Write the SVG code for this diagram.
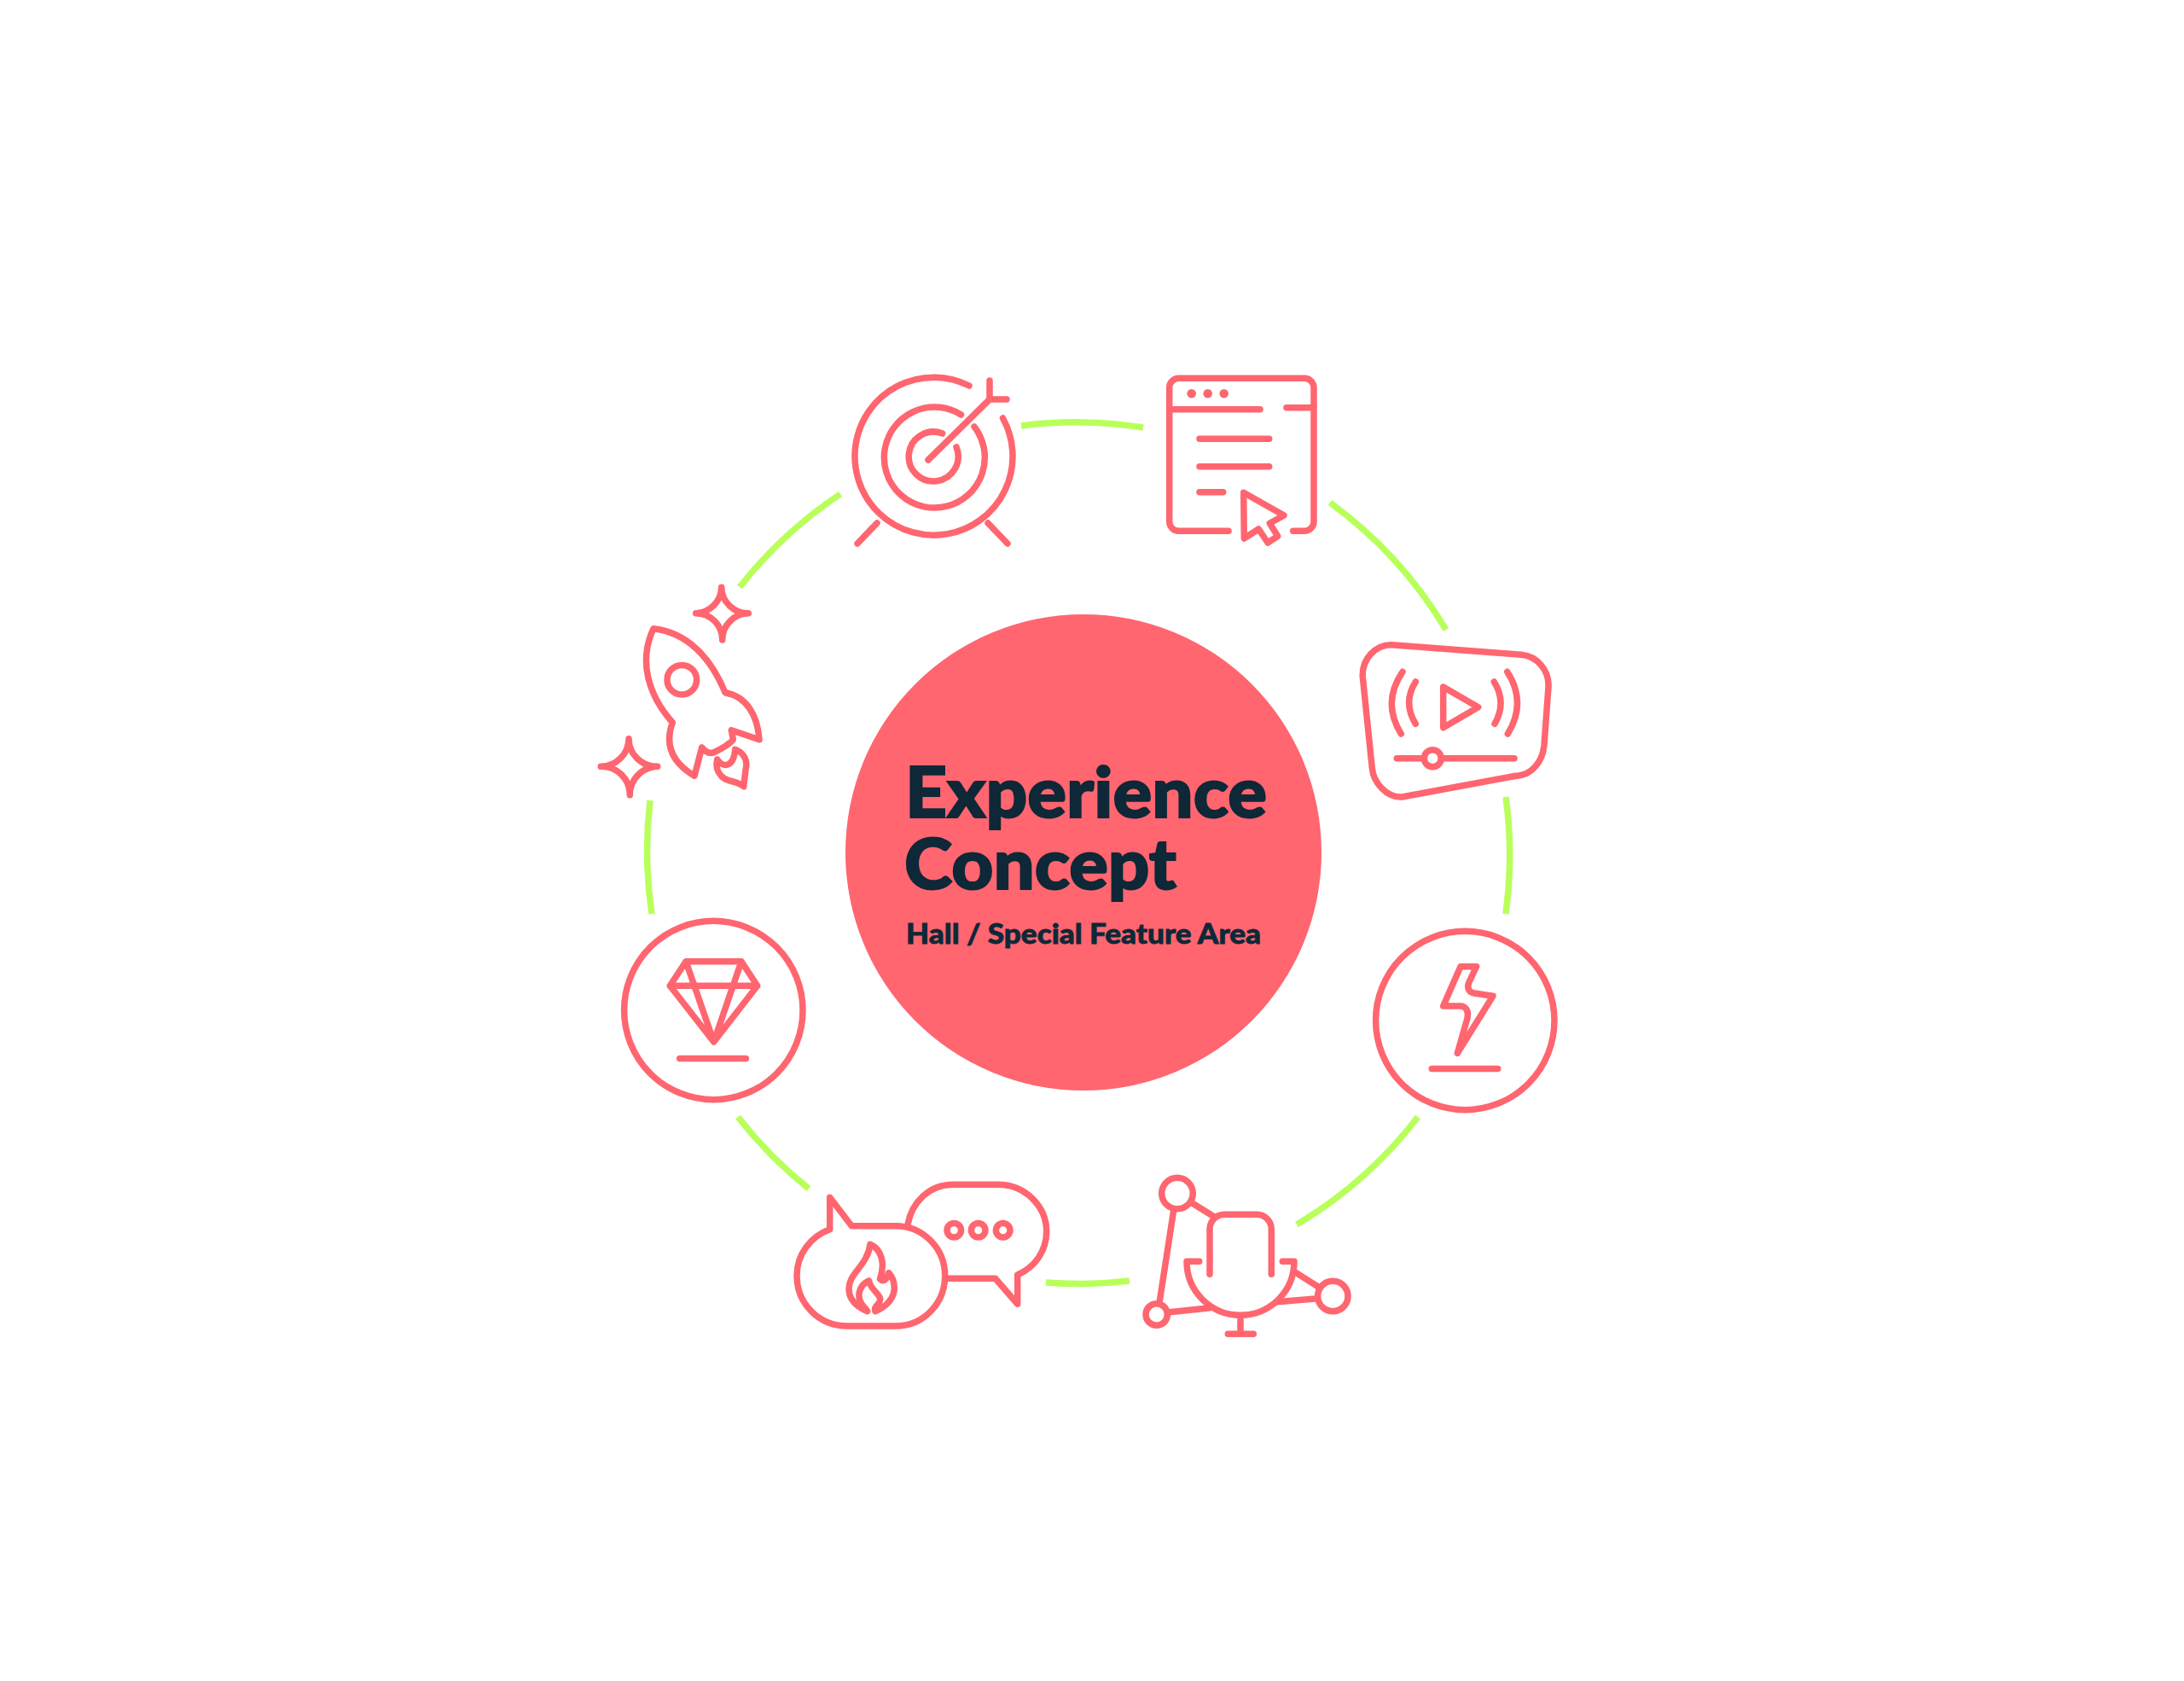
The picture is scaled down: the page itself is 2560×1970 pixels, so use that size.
<svg xmlns="http://www.w3.org/2000/svg" width="2560" height="1970" viewBox="0 0 2560 1970">
<style>
.i{fill:none;stroke:#ff6670;stroke-width:7.5;stroke-linecap:round;stroke-linejoin:round}
.f{fill:#ff6670}
.g{fill:none;stroke:#b9ff5a;stroke-width:7.5;stroke-linecap:butt}
.t{font-family:"Lato","Liberation Sans",sans-serif;font-weight:900;fill:#0e2838;stroke:#0e2838}
</style>
<rect width="2560" height="1970" fill="#ffffff"/>
<g id="connectors" class="g">
<path d="M1197 499A505 505 0 0 1 1340 501"/>
<path d="M1559 589A505 505 0 0 1 1695 738"/>
<path d="M1765 934A505 505 0 0 1 1765 1071"/>
<path d="M1662 1309A505 505 0 0 1 1520 1435"/>
<path d="M1324 1501A505 505 0 0 1 1226 1503"/>
<path d="M948 1393A505 505 0 0 1 865 1309"/>
<path d="M764 1071A505 505 0 0 1 762 938"/>
<path d="M867 688A505 505 0 0 1 985 579"/>
</g>
<g id="center">
<circle class="f" cx="1270" cy="999" r="279"/>
<text class="t" font-size="82" stroke-width="2"><tspan x="1061" y="958" textLength="424" lengthAdjust="spacingAndGlyphs">Experience</tspan><tspan x="1060" y="1042" textLength="319" lengthAdjust="spacingAndGlyphs">Concept</tspan></text>
<text class="t" x="1062" y="1106" font-size="33" stroke-width="0.8" textLength="416" lengthAdjust="spacingAndGlyphs">Hall / Special Feature Area</text>
</g>
<g id="node-target" class="i">
<path d="M1136 452A92.5 92.5 0 1 0 1175.5 490"/>
<path d="M1126.5 486A59 59 0 1 0 1142 500"/>
<path d="M1104.7 508A29 29 0 1 0 1121 524"/>
<path d="M1088 539L1160 468M1160 446V468H1180"/>
<path d="M1028 613L1005 637M1158 613L1181 637"/>
</g>
<g id="node-browser">
<g class="i">
<path d="M1440 622.3H1382A11 11 0 0 1 1370.7 611V454.5A11 11 0 0 1 1382 443.3H1529A11 11 0 0 1 1540 454.5V611A11 11 0 0 1 1529 622.3H1515.7"/>
<path d="M1370.7 479.7H1477M1508 477.7H1540"/>
<path d="M1406 514.3H1487.7M1406 546.7H1487.7M1406 576.7H1433.7"/>
<path d="M1457.7 577.3L1505 604L1488.3 613.3L1497.7 628.3L1486 636L1475.3 620L1458.3 631Z"/>
</g>
<circle class="f" cx="1396.7" cy="461.3" r="5.3"/>
<circle class="f" cx="1415.7" cy="461.3" r="5.3"/>
<circle class="f" cx="1434.7" cy="461.3" r="5.3"/>
</g>
<g id="node-video" class="i">
<path d="M1631.7 755.7L1783.3 767.3C1802 769 1816 786 1815 805L1810 873.3C1808 893 1795 909 1776.7 909.3L1643.3 934C1626 935 1610 918 1608.3 900L1597.3 793.3C1596 773 1612 755 1631.7 755.7Z"/>
<path d="M1644 787.3Q1619.5 823.3 1642.3 860M1659.3 799Q1644 823.3 1659.3 848.3M1751.3 799Q1766.5 823.3 1752 848.3M1766.7 787.3Q1790 823.3 1767.3 860"/>
<path d="M1691.7 805L1732.7 828.7L1691.7 852.7Z"/>
<path d="M1637.3 888.7H1669.3M1689.3 888.7H1775"/>
<circle cx="1679.3" cy="888.7" r="10"/>
</g>
<g id="node-bolt" class="i">
<circle cx="1717.3" cy="1196" r="104.7"/>
<path d="M1678.3 1252.5H1755.7"/>
<path d="M1712 1132.7H1730.7L1721.7 1151.7C1719 1158 1722 1163 1728.3 1164L1750 1167.3L1708.3 1234.3L1720 1193.3C1722 1185 1718 1179 1711.7 1179H1691.7Z"/>
</g>
<g id="node-mic" class="i">
<circle cx="1380" cy="1398.5" r="18.3"/>
<circle cx="1355.7" cy="1540.5" r="12.7"/>
<circle cx="1562.3" cy="1519" r="17.7"/>
<path d="M1375.7 1418.3L1359.3 1525M1396 1409L1421.7 1425M1370.7 1537.7L1418.3 1532.7M1496.7 1525.7L1544 1521.7M1516.7 1490L1546.7 1509"/>
<path d="M1418 1493.3V1440.3A17 17 0 0 1 1435 1423.3H1473.3A17 17 0 0 1 1490.3 1440.3V1493.3"/>
<path d="M1405.7 1478.3H1391A63 63 0 0 0 1517 1478.3H1503.3"/>
<path d="M1454 1541.7V1563.3M1439.3 1563.3H1469.3"/>
</g>
<g id="node-chat" class="i">
<path d="M972.7 1440.7V1403.3L998.3 1436.7H1050C1082 1436.7 1107.7 1463 1107.7 1495C1107.7 1528 1082 1554 1050 1554H993C960 1554 934 1528 934 1495C934 1470 950 1449 972.7 1440.7Z"/>
<path d="M1064 1435C1069 1408 1090 1388.3 1116.7 1388.3H1170C1201 1388.3 1226.7 1413 1226.7 1443.3C1226.7 1466 1213 1485 1192.7 1494V1528.3L1166.7 1498.3H1110"/>
<circle cx="1118.3" cy="1441.7" r="8.3"/>
<circle cx="1146.7" cy="1441.7" r="8.3"/>
<circle cx="1175.7" cy="1441.7" r="8.3"/>
<path d="M1016.7 1536.7C1003 1531 995 1522 995 1510C995 1492 1017 1483 1020 1458.3C1033 1464 1038 1480 1031.5 1499C1036 1503 1040 1499 1041.7 1491.7C1046 1496 1048.3 1503 1048.3 1510C1048 1522 1038 1532 1026 1536.7C1023 1530 1032 1530 1031.7 1522C1030 1515 1021 1512 1018.5 1501C1008 1506 1005 1516 1008 1524C1010 1530 1014 1532 1016.7 1536.7Z"/>
</g>
<g id="node-diamond" class="i">
<circle cx="836.3" cy="1184" r="104.7"/>
<path d="M796.7 1240.5H874.3"/>
<path d="M804 1126.7H869L887.7 1155.3L836.7 1221L785.3 1155.3ZM785.3 1155.3H887.7M804 1126.7L836.7 1221L869 1126.7"/>
</g>
<g id="node-rocket" class="i">
<path d="M766 736.7C805 741 833 770 850 811.7C875 816 888 838 890 866.7L857.3 855.7L859.3 866.7C858 870 845 878 836.7 881.7C831 884 826 880 822.7 876L814 909.3C790 895 778 875 788.3 846.7C760 815 748 775 766 736.7Z"/>
<circle cx="799.3" cy="796.7" r="17.3"/>
<path d="M840.7 890C847 900 860 900 861.7 878.3C872 882 877 892 874 902L871.7 921.7C865 915 853 917 846 910C840 904 839 897 840.7 890Z"/>
<path d="M845.7 688.3A31 31 0 0 0 877.3 718.7A31 31 0 0 0 846.7 750A31 31 0 0 0 815.7 718.7A31 31 0 0 0 845.7 688.3Z"/>
<path d="M737 865.7A33 33 0 0 0 770.7 898.3A33 33 0 0 0 738.3 931.7A33 33 0 0 0 704.3 898.3A33 33 0 0 0 737 865.7Z"/>
</g>
</svg>
